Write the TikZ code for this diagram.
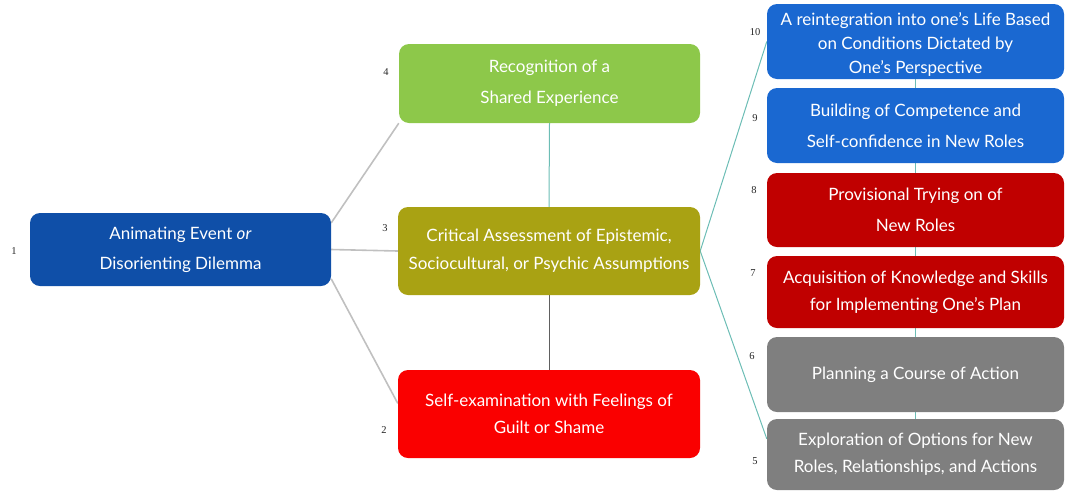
\documentclass[tikz,border=0pt]{standalone}
\usepackage{fontspec}
\setmainfont{Lato}
\newfontfamily\numfont{Liberation Serif}
\usetikzlibrary{backgrounds}
\definecolor{cDarkBlue}{HTML}{0F4FA8}
\definecolor{cGreen}{HTML}{8DC84A}
\definecolor{cOlive}{HTML}{A9A213}
\definecolor{cRed}{HTML}{FA0000}
\definecolor{cBlue}{HTML}{1A68D1}
\definecolor{cDarkRed}{HTML}{C00000}
\definecolor{cGray}{HTML}{7F7F7F}
\definecolor{cTeal}{HTML}{6CBDB5}
\definecolor{cLine}{HTML}{C0C0C0}
\definecolor{cDark}{HTML}{606060}
\tikzset{
  box/.style={rounded corners=10pt, inner sep=0pt, align=center, text=white,
    font=\fontsize{17}{30}\selectfont},
  numlab/.style={font=\numfont\fontsize{10.5}{11}\selectfont, text=black!85, inner sep=0pt},
  grayline/.style={draw=cLine, line width=1.6pt},
  tealline/.style={draw=cTeal, line width=1pt},
  darkline/.style={draw=cDark, line width=1pt},
}
\begin{document}
\begin{tikzpicture}[x=1pt,y=-1pt]
\useasboundingbox (0,0) rectangle (1065,491);
% left
\node[box, fill=cDarkBlue, minimum width=301pt, minimum height=73pt] (n1) at (180.5,249.5)
  {Animating Event \textit{or}\\Disorienting Dilemma};
% middle column
\node[box, fill=cGreen, minimum width=301pt, minimum height=79pt, font=\fontsize{17}{31}\selectfont] (n4) at (549.5,83.5)
  {Recognition of a\\Shared Experience};
\node[box, fill=cOlive, minimum width=302pt, minimum height=88pt, font=\fontsize{17}{28}\selectfont] (n3) at (549,251)
  {Critical Assessment of Epistemic,\\Sociocultural, or Psychic Assumptions};
\node[box, fill=cRed, minimum width=302pt, minimum height=88pt, font=\fontsize{17}{27}\selectfont] (n2) at (549,414)
  {Self-examination with Feelings of\\Guilt or Shame};
% right column
\node[box, fill=cBlue, minimum width=297pt, minimum height=75pt, font=\fontsize{17}{24}\selectfont] (n10) at (915.5,41.5)
  {\rule{0pt}{19pt}A reintegration into one's Life Based\\on Conditions Dictated by\\One's Perspective};
\node[box, fill=cBlue, minimum width=297pt, minimum height=75pt, font=\fontsize{17}{31}\selectfont] (n9) at (915.5,125.5)
  {Building of Competence and\\Self-confidence in New Roles};
\node[box, fill=cDarkRed, minimum width=297pt, minimum height=74pt, font=\fontsize{17}{31}\selectfont] (n8) at (915.5,210)
  {Provisional Trying on of\\New Roles};
\node[box, fill=cDarkRed, minimum width=297pt, minimum height=72pt, font=\fontsize{17}{27}\selectfont] (n7) at (915.5,292)
  {Acquisition of Knowledge and Skills\\for Implementing One's Plan};
\node[box, fill=cGray, minimum width=297pt, minimum height=75pt] (n6) at (915.5,374.5)
  {Planning a Course of Action};
\node[box, fill=cGray, minimum width=297pt, minimum height=71pt, font=\fontsize{17}{27}\selectfont] (n5) at (915.5,454.5)
  {Exploration of Options for New\\Roles, Relationships, and Actions};
% number labels
\node[numlab] (l1) at (14,251) {1};
\node[numlab] (l4) at (386,72) {4};
\node[numlab] (l3) at (385,228) {3};
\node[numlab] (l2) at (384,430) {2};
\node[numlab] (l10) at (755,32) {10};
\node[numlab] (l9) at (755,118) {9};
\node[numlab] (l8) at (754,190) {8};
\node[numlab] (l7) at (753,273) {7};
\node[numlab] (l6) at (752,356) {6};
\node[numlab] (l5) at (755,461) {5};
% connectors
\begin{scope}[on background layer]
\draw[grayline] (n1.10) -- (n4.south west);
\draw[grayline] (n1.east) -- (n3.west);
\draw[grayline] (n1.-11) -- (n2.176);
\draw[tealline] (n4.south) -- (n3.north);
\draw[darkline] (n3.south) -- (n2.north);
\draw[tealline] (n3.east) -- (n10.west);
\draw[tealline] (n3.east) -- (n5.174);
\draw[tealline] (n10.south) -- (n9.north);
\draw[tealline] (n9.south) -- (n8.north);
\draw[tealline] (n8.south) -- (n7.north);
\draw[tealline] (n7.south) -- (n6.north);
\draw[tealline] (n6.south) -- (n5.north);
\end{scope}
\end{tikzpicture}
\end{document}
